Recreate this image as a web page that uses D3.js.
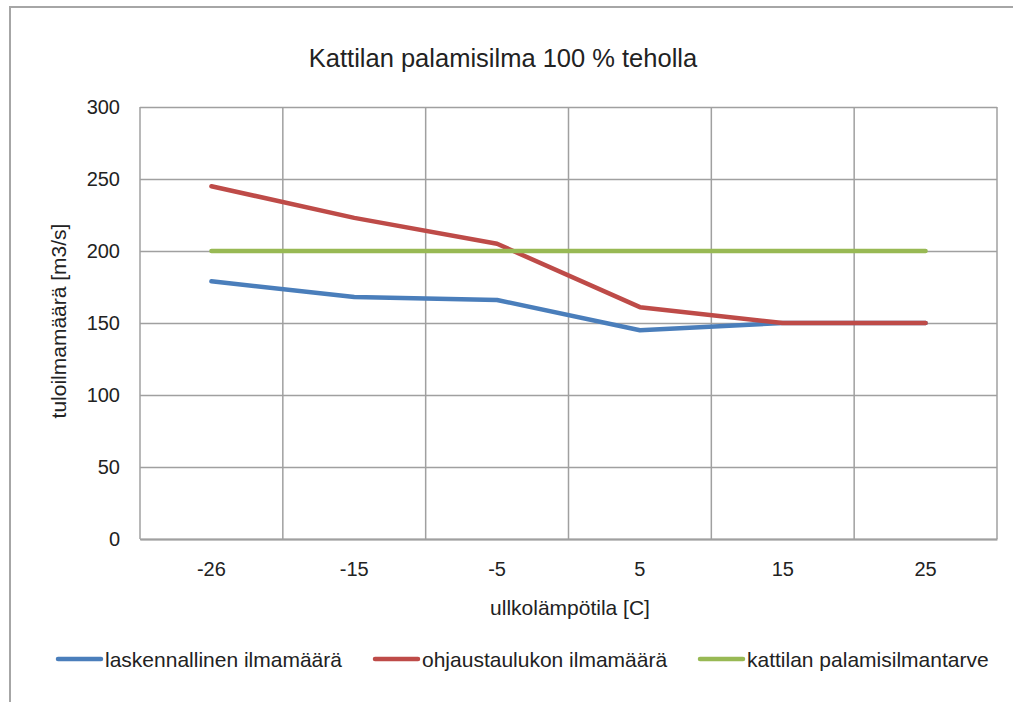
<!DOCTYPE html>
<html>
<head>
<meta charset="utf-8">
<script src="https://cdn.jsdelivr.net/npm/d3@7"></script>
<style>
  body { margin: 0; background: #fff; }
  text { font-family: "Liberation Sans", Arial, sans-serif; fill: #222; }
</style>
</head>
<body>
<div id="chart"></div>
<script>
// categories and series
var categories = ["-26", "-15", "-5", "5", "15", "25"];
var laskennallinen = [179, 168, 166, 145, 150, 150];
var ohjaustaulukko = [245, 223, 205, 161, 150, 150];
var palamisilmantarve = [200, 200, 200, 200, 200, 200];
var yTicks = [0, 50, 100, 150, 200, 250, 300];

var series = [
  {name: "laskennallinen ilmamäärä", values: laskennallinen, color: "#4a7ebb"},
  {name: "ohjaustaulukon ilmamäärä", values: ohjaustaulukko, color: "#be4b48"},
  {name: "kattilan palamisilmantarve", values: palamisilmantarve, color: "#98b954"}
];

var W = 1013, H = 702;
var margin = {top: 107, right: 16, bottom: 163, left: 140},
    width = W - margin.left - margin.right,
    height = H - margin.top - margin.bottom;

var svg = d3.select("#chart")
  .append("svg")
    .attr("width", W)
    .attr("height", H);

// outer frame (left and top edges only, like the cropped picture)
svg.append("path")
  .attr("d", "M10,702 V7 H1013")
  .attr("fill", "none")
  .attr("stroke", "#a6a6a6")
  .attr("stroke-width", 2);

svg.append("text")
  .attr("x", 503)
  .attr("y", 67)
  .attr("text-anchor", "middle")
  .style("font-size", "25.5px")
  .text("Kattilan palamisilma 100 % teholla");

var g = svg.append("g")
  .attr("transform", "translate(" + margin.left + "," + margin.top + ")");

var x = d3.scaleBand()
  .domain(categories)
  .range([0, width])
  .padding(0);

var y = d3.scaleLinear()
  .domain([0, 300])
  .range([height, 0]);

// horizontal grid + y labels
g.append("g")
  .call(d3.axisLeft(y).tickValues(yTicks).tickSize(-width).tickPadding(20))
  .call(function(a) { a.select(".domain").remove(); })
  .call(function(a) {
    a.selectAll("line").attr("stroke", "#a0a0a0").attr("stroke-width", 1.5);
    a.selectAll("text").style("font-size", "20px").attr("fill", "#222")
      .style("font-family", "Liberation Sans, Arial, sans-serif");
  });

// vertical grid at band edges
var edges = categories.map(function(c) { return x(c); }).concat([width]);
g.append("g").selectAll("line")
  .data(edges)
  .enter()
  .append("line")
    .attr("x1", function(d) { return d; })
    .attr("x2", function(d) { return d; })
    .attr("y1", 0)
    .attr("y2", height)
    .attr("stroke", "#a0a0a0")
    .attr("stroke-width", 1.5);

// x labels
g.append("g")
  .attr("transform", "translate(0," + height + ")")
  .call(d3.axisBottom(x).tickSize(0).tickPadding(23))
  .call(function(a) {
    a.select(".domain").attr("stroke", "#a0a0a0").attr("stroke-width", 2);
    a.selectAll("text").style("font-size", "20px").attr("fill", "#222")
      .style("font-family", "Liberation Sans, Arial, sans-serif");
  });

// axis titles
svg.append("text")
  .attr("x", 570)
  .attr("y", 615)
  .attr("text-anchor", "middle")
  .style("font-size", "21px")
  .text("ullkolämpötila [C]");

svg.append("text")
  .attr("transform", "translate(66,321) rotate(-90)")
  .attr("text-anchor", "middle")
  .style("font-size", "21px")
  .text("tuloilmamäärä [m3/s]");

// lines
var line = d3.line()
  .x(function(d, i) { return x(categories[i]) + x.bandwidth() / 2; })
  .y(function(d) { return y(d); });

g.selectAll(".series")
  .data(series)
  .enter()
  .append("path")
    .attr("class", "series")
    .attr("d", function(s) { return line(s.values); })
    .attr("fill", "none")
    .attr("stroke", function(s) { return s.color; })
    .attr("stroke-width", 4.5)
    .attr("stroke-linecap", "round")
    .attr("stroke-linejoin", "round");

// legend
var legendX = [58, 375, 700];
var legend = svg.selectAll(".legend")
  .data(series)
  .enter()
  .append("g")
    .attr("class", "legend")
    .attr("transform", function(s, i) { return "translate(" + legendX[i] + ",659)"; });

legend.append("line")
  .attr("x1", 0).attr("x2", 43)
  .attr("stroke", function(s) { return s.color; })
  .attr("stroke-width", 4.5)
  .attr("stroke-linecap", "round");

legend.append("text")
  .attr("x", 47)
  .attr("y", 7.5)
  .style("font-size", "21px")
  .text(function(s) { return s.name; });
</script>
</body>
</html>
